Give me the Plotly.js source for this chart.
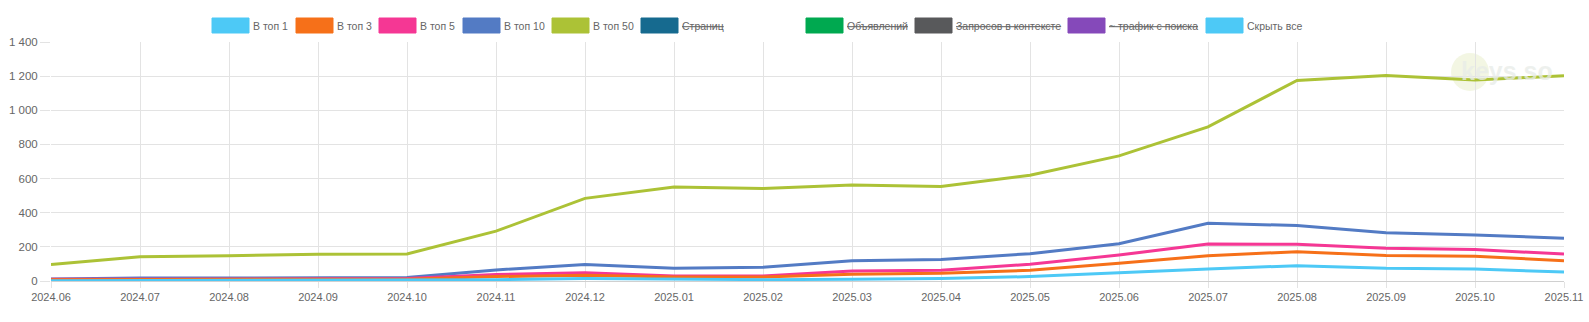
<!DOCTYPE html>
<html>
<head>
<meta charset="utf-8">
<script src="https://cdn.plot.ly/plotly-3.0.1.min.js"></script>
<style>
  html, body { margin: 0; padding: 0; background: #fff; }
  #chart { width: 1589px; height: 322px; }
</style>
</head>
<body>
<div id="chart"></div>
<script>
// ---- DATA ----
const months = ["2024.06","2024.07","2024.08","2024.09","2024.10","2024.11","2024.12",
                "2025.01","2025.02","2025.03","2025.04","2025.05","2025.06","2025.07",
                "2025.08","2025.09","2025.10","2025.11"];
const top1  = [2, 3, 3, 4, 4, 8, 15, 10, 8, 10, 14, 26, 50, 70, 90, 74, 70, 53];
const top3  = [8, 10, 10, 10, 10, 26, 33, 24, 24, 39, 45, 63, 104, 148, 172, 149, 145, 119];
const top5  = [10, 12, 12, 13, 14, 38, 49, 29, 29, 58, 63, 98, 152, 217, 215, 192, 184, 158];
const top10 = [12, 18, 18, 20, 20, 65, 97, 74, 80, 119, 126, 160, 218, 338, 325, 283, 270, 250];
const top50 = [96, 142, 148, 156, 158, 292, 484, 550, 542, 562, 554, 620, 733, 903, 1175, 1204, 1177, 1202];

const legendLabels = ["В топ 1","В топ 3","В топ 5","В топ 10","В топ 50","Страниц","Объявлений","Запросов в контексте","~ трафик с поиска","Скрыть все"];
const legendHidden = [false,false,false,false,false,true,true,true,true,false];
const yTicks = [0, 200, 400, 600, 800, 1000, 1200, 1400];

// ---- STYLE ----
const colors = ["#4dc9f6","#f67019","#f53794","#537bc4","#acc236","#166a8f","#00a950","#58595b","#8549ba","#4dc9f6"];
const FONT = "'Liberation Sans', Arial, sans-serif";
const TXT = "#666";

const series = [
  {name: "В топ 50", y: top50, c: colors[4]},
  {name: "В топ 10", y: top10, c: colors[3]},
  {name: "В топ 5",  y: top5,  c: colors[2]},
  {name: "В топ 3",  y: top3,  c: colors[1]},
  {name: "В топ 1",  y: top1,  c: colors[0]},
];
const traces = series.map(s => ({
  type: "scatter", mode: "lines", x: months, y: s.y, name: s.name,
  line: {color: s.c, width: 3}, hoverinfo: "x+y+name", showlegend: false
}));

// Plot area in pixels
const L = 51, R = 1564, T = 42, B = 281;
const W = R - L, H = B - T;
const px = v => (v - L) / W;
const py = v => (B - v) / H;

// Legend layout (pixel left edges of boxes)
const legendBoxX = [212, 296, 379, 463, 552, 641, 806, 915, 1068, 1206];
const boxW = 37, boxTop = 18, boxBot = 33;
const shapes = [], annotations = [];
legendLabels.forEach((lab, i) => {
  const x0 = legendBoxX[i];
  shapes.push({type: "rect", xref: "paper", yref: "paper",
    x0: px(x0), x1: px(x0 + boxW), y0: py(boxBot), y1: py(boxTop),
    fillcolor: colors[i], line: {color: colors[i], width: 1}, layer: "above"});
  annotations.push({xref: "paper", yref: "paper", x: px(x0 + boxW + 2), y: py((boxTop + boxBot) / 2),
    xanchor: "left", yanchor: "middle", showarrow: false,
    text: legendHidden[i] ? "<s>" + lab + "</s>" : lab,
    font: {family: FONT, size: 10.5, color: TXT}});
});

// watermark
const cx = 1470, cy = 72, r = 19;
shapes.push({type: "circle", xref: "paper", yref: "paper",
  x0: px(cx - r), x1: px(cx + r), y0: py(cy + r), y1: py(cy - r),
  fillcolor: "rgba(172,194,54,0.14)", line: {width: 0}, layer: "below"});
annotations.push({xref: "paper", yref: "paper", x: px(1459), y: py(71),
  xanchor: "left", yanchor: "middle", showarrow: false, text: "<b>keys.so</b>",
  font: {family: "Arial, sans-serif", size: 25, color: "rgba(232,236,232,0.75)"}});

const layout = {
  width: 1589, height: 322,
  margin: {l: L, r: 1589 - R, t: T, b: 322 - B, pad: 0},
  paper_bgcolor: "#fff", plot_bgcolor: "#fff",
  separators: ", ",
  showlegend: false,
  font: {family: FONT, size: 11, color: TXT},
  xaxis: {
    type: "category", range: [0, months.length - 1],
    showgrid: true, gridcolor: "#e3e3e3", gridwidth: 1,
    ticks: "outside", ticklen: 6, tickcolor: "#e3e3e3",
    tickfont: {family: FONT, size: 11, color: TXT},
    showline: false, zeroline: false, fixedrange: true
  },
  yaxis: {
    range: [0, 1400], tickvals: yTicks,
    tickformat: ",d",
    showgrid: true, gridcolor: "#e3e3e3", gridwidth: 1,
    ticks: "outside", ticklen: 10, tickcolor: "#e3e3e3",
    tickfont: {family: FONT, size: 11.5, color: TXT},
    zeroline: true, zerolinecolor: "#d0d0d0", zerolinewidth: 1,
    showline: false, fixedrange: true
  },
  shapes: shapes,
  annotations: annotations
};

Plotly.newPlot("chart", traces, layout, {displayModeBar: false, staticPlot: true});
</script>
</body>
</html>
